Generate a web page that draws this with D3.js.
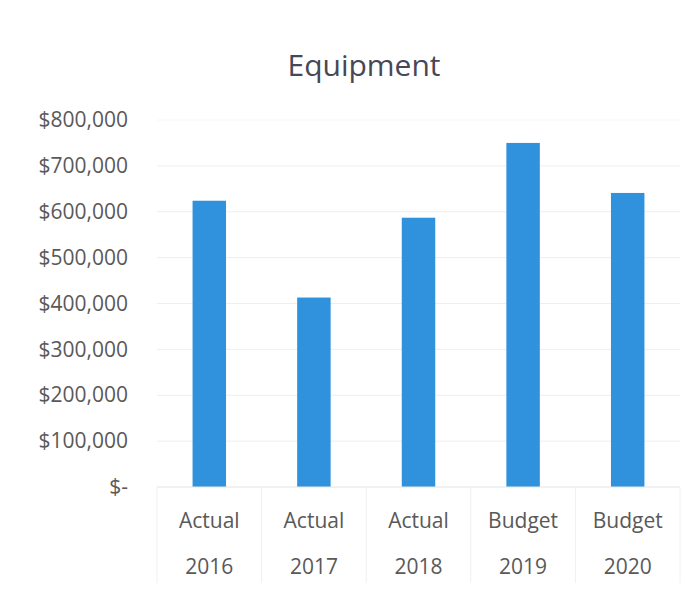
<!DOCTYPE html>
<html>
<head>
<meta charset="utf-8">
<script src="https://cdn.jsdelivr.net/npm/d3@7"></script>
<style>
  html, body { margin: 0; padding: 0; background: #ffffff; }
  svg { display: block; }
</style>
</head>
<body>
<svg id="chart" width="699" height="599"></svg>
<script>
// Equipment spending: three actual years followed by two budget years
const categoryTypes = ["Actual", "Actual", "Actual", "Budget", "Budget"];
const categoryYears = ["2016", "2017", "2018", "2019", "2020"];
const amounts = [624000, 413000, 587000, 750000, 641000];
const yTicks = [0, 100000, 200000, 300000, 400000, 500000, 600000, 700000, 800000];

const svg = d3.select("#chart");
const W = 699, H = 599;
const margin = { top: 120, right: 19, bottom: 112, left: 157 };
const innerW = W - margin.left - margin.right;
const innerH = H - margin.top - margin.bottom;
const font = "'Open Sans', 'Liberation Sans', sans-serif";
const textColor = "#595959";

svg.append("rect").attr("width", W).attr("height", H).attr("fill", "#ffffff");

const keys = categoryYears.map((y, i) => categoryTypes[i] + " " + y);

const x = d3.scaleBand()
  .domain(keys)
  .range([0, innerW])
  .paddingInner(0.68)
  .paddingOuter(0.34);

const y = d3.scaleLinear()
  .domain([0, 800000])
  .range([innerH, 0]);

const g = svg.append("g").attr("transform", `translate(${margin.left},${margin.top})`);

// Horizontal gridlines
g.append("g")
  .selectAll("line")
  .data(yTicks.filter(d => d > 0))
  .join("line")
  .attr("x1", 0).attr("x2", innerW)
  .attr("y1", d => y(d)).attr("y2", d => y(d))
  .attr("stroke", d => d === 800000 ? "#f6f6f6" : "#eeeeee")
  .attr("stroke-width", 1);

// Y axis labels in accounting style
const fmt = d => d === 0 ? "$-" : "$" + d3.format(",")(d);
const yAxis = d3.axisLeft(y).tickValues(yTicks).tickFormat(fmt).tickSize(0).tickPadding(29);
const yg = g.append("g").call(yAxis);
yg.select(".domain").remove();
yg.selectAll("text")
  .attr("font-family", font)
  .attr("font-size", 21)
  .attr("fill", textColor);

// Bars
g.append("g")
  .selectAll("rect")
  .data(amounts)
  .join("rect")
  .attr("x", (d, i) => x(keys[i]))
  .attr("width", x.bandwidth())
  .attr("y", d => y(d))
  .attr("height", d => innerH - y(d))
  .attr("fill", "#3092dc");

// Baseline
g.append("line")
  .attr("x1", 0).attr("x2", innerW)
  .attr("y1", innerH).attr("y2", innerH)
  .attr("stroke", "#e4e4e4");

// Category separators below the baseline
const seps = d3.range(keys.length + 1).map(i => i * (innerW / keys.length));
g.append("g")
  .selectAll("line")
  .data(seps)
  .join("line")
  .attr("x1", d => d).attr("x2", d => d)
  .attr("y1", innerH).attr("y2", innerH + 96)
  .attr("stroke", "#f0f0f0");

// Two-line category labels
const labels = g.append("g")
  .selectAll("g")
  .data(keys)
  .join("g")
  .attr("transform", d => `translate(${x(d) + x.bandwidth() / 2},${innerH})`);
labels.append("text")
  .attr("y", 41)
  .attr("text-anchor", "middle")
  .attr("font-family", font)
  .attr("font-size", 21)
  .attr("fill", textColor)
  .text((d, i) => categoryTypes[i]);
labels.append("text")
  .attr("y", 87)
  .attr("text-anchor", "middle")
  .attr("font-family", font)
  .attr("font-size", 21)
  .attr("fill", textColor)
  .text((d, i) => categoryYears[i]);

// Title
svg.append("text")
  .attr("x", 364)
  .attr("y", 76)
  .attr("text-anchor", "middle")
  .attr("font-family", font)
  .attr("font-size", 30)
  .attr("fill", "#474756")
  .text("Equipment");
</script>
</body>
</html>
